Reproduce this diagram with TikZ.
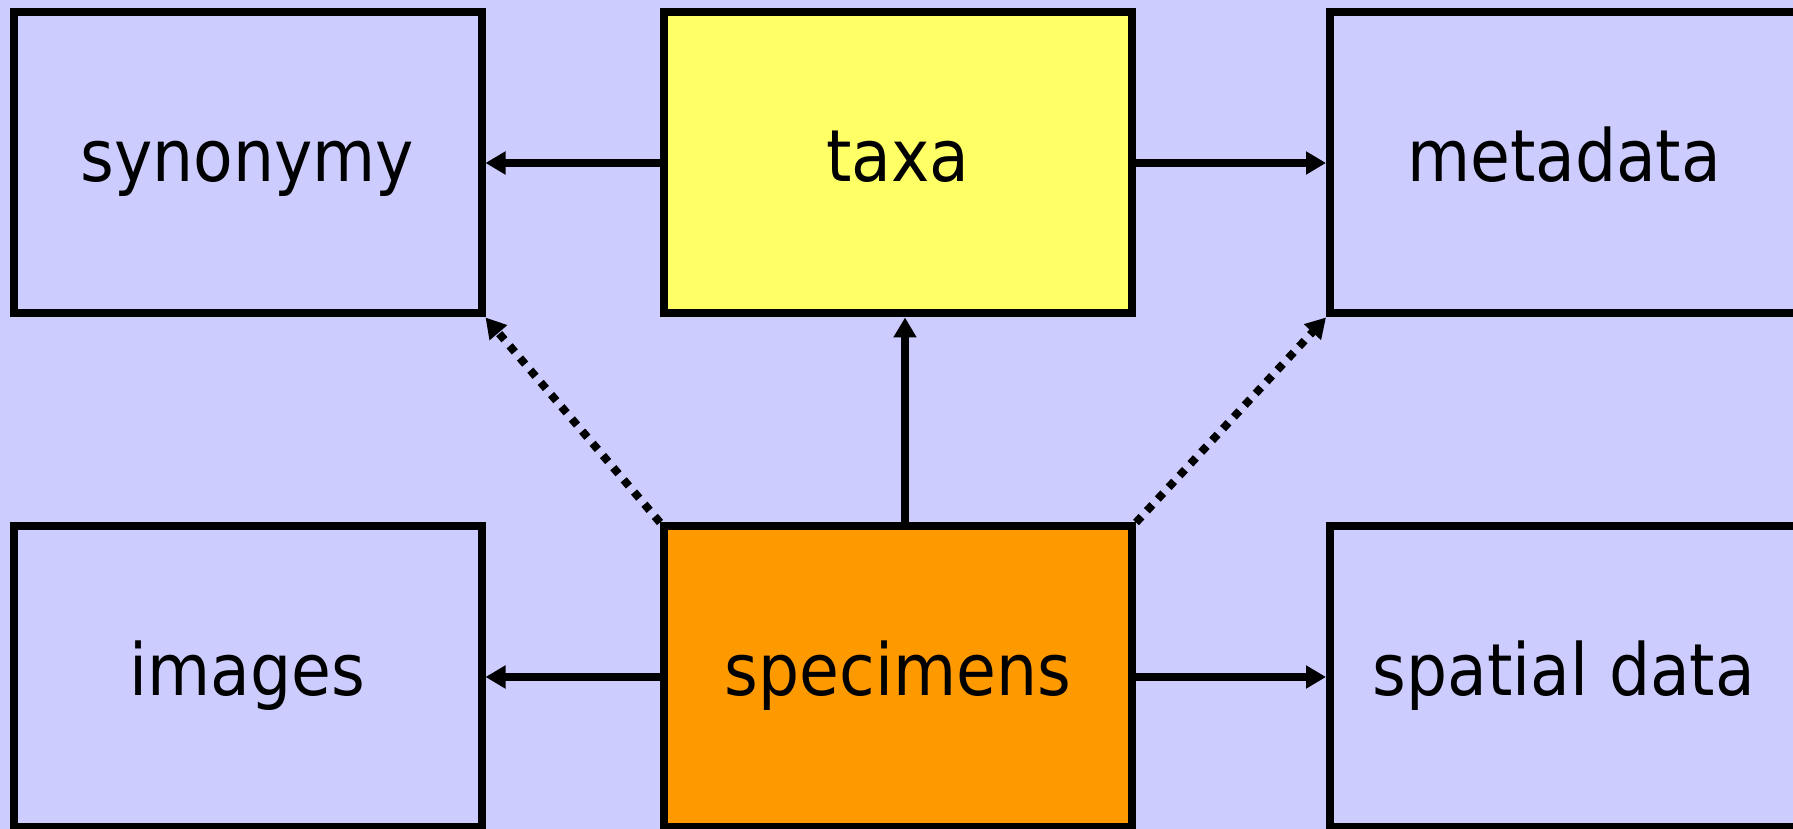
\documentclass[tikz,border=0pt]{standalone}
\usepackage{fontspec}
\setmainfont{DejaVu Sans Condensed}
\usetikzlibrary{arrows.meta}
\definecolor{lavender}{HTML}{CCCCFF}
\definecolor{taxayellow}{HTML}{FFFF66}
\definecolor{specorange}{HTML}{FF9900}
\tikzset{% boxes and links
        tbl/.style={draw, line width=4pt, fill=lavender, inner sep=0pt,
                    minimum width=234pt, minimum height=150.5pt,
                    text height=27.4pt, text depth=8.6pt,
                    font=\fontsize{36}{40}\selectfont},
        link/.style={line width=4pt, -{Triangle[length=10pt,width=11pt]}},
        maybe/.style={link, dash pattern=on 4pt off 4pt}
        }

\begin{document}
\begin{tikzpicture}[x=0.5pt, y=0.5pt]
 \fill[lavender] (0,0) rectangle (1793,829);
 \useasboundingbox (0,0) rectangle (1793,829);
 \node [tbl] (syn) at (247.5,666) {synonymy};
 \node [tbl, fill=taxayellow] (taxa) at (898,666) {taxa};
 \node [tbl] (meta) at (1564,666) {metadata};
 \node [tbl] (img) at (247.5,152) {images};
 \node [tbl, fill=specorange] (spec) at (898,152) {specimens};
 \node [tbl] (spat) at (1564,152) {spatial data};
\draw [link] (taxa) -- (syn);
\draw [link] (taxa) -- (meta);
\draw [link] (spec) -- (img);
\draw [link] (spec) -- (spat);
\draw [link] ([xshift=3.5pt]spec.north) -- ([xshift=3.5pt]taxa.south);
\draw [maybe] (spec.north west) -- (syn.south east);
\draw [maybe] (spec.north east) -- (meta.south west);
\end{tikzpicture}
\end{document}
